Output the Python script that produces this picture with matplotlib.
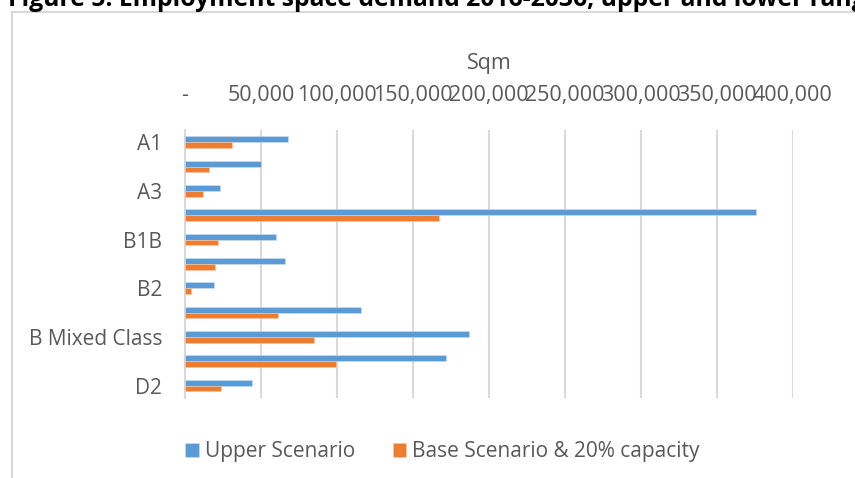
import matplotlib
matplotlib.use('Agg')
import matplotlib.pyplot as plt
from matplotlib.lines import Line2D
import numpy as np

plt.rcParams['font.family'] = ['Open Sans', 'DejaVu Sans']

# Employment space demand by use class (sqm)
categories = ['A1', 'A2', 'A3', 'B1A', 'B1B', 'B1C', 'B2', 'B8', 'B Mixed Class', 'D1', 'D2']
shown_labels = ['A1', '', 'A3', '', 'B1B', '', 'B2', '', 'B Mixed Class', '', 'D2']
upper = [68000, 50000, 23000, 376000, 60000, 66000, 19000, 116000, 187000, 172000, 44000]
base = [31000, 16000, 12000, 167000, 21500, 20000, 4000, 61000, 85000, 99500, 24000]
xticks = [0, 50000, 100000, 150000, 200000, 250000, 300000, 350000, 400000]
xticklabels = ['-', '50,000', '100,000', '150,000', '200,000', '250,000',
               '300,000', '350,000', '400,000']

W, H = 855, 478
fig = plt.figure(figsize=(W / 100, H / 100), dpi=100)
ax = fig.add_axes([185 / W, 1 - 397.7 / H, (792.7 - 185) / W, (397.7 - 130) / H])

grey_text = '#595959'
blue = '#5B9BD5'
orange = '#ED7D31'

y = np.arange(len(categories))
bh = 0.245
ax.barh(y - bh / 2, upper, height=bh, color=blue, edgecolor='#cfe0f1', linewidth=0.4,
        label='Upper Scenario', zorder=3)
ax.barh(y + bh / 2, base, height=bh, color=orange, edgecolor='#f6c9a8', linewidth=0.4,
        label='Base Scenario & 20% capacity', zorder=3)

ax.set_ylim(len(categories) - 0.5, -0.5)
ax.set_xlim(0, 400000)
ax.set_yticks(y)
ax.set_yticklabels(shown_labels, fontsize=15, color=grey_text)
ax.tick_params(axis='y', length=0, pad=16.5)

ax.xaxis.tick_top()
ax.xaxis.set_label_position('top')
ax.set_xticks(xticks)
ax.set_xticklabels(xticklabels, fontsize=15.5, color=grey_text)
ax.tick_params(axis='x', length=0, pad=17)
ax.set_xlabel('Sqm', fontsize=15.5, color=grey_text, labelpad=12)

ax.grid(axis='x', color='#d9d9d9', linewidth=1.5, zorder=0)
for s in ['top', 'right', 'bottom']:
    ax.spines[s].set_visible(False)
ax.spines['left'].set_color('#d9d9d9')
ax.spines['left'].set_linewidth(1.5)

leg = fig.legend(loc='center left', bbox_to_anchor=(166 / W, 1 - 451.5 / H), ncol=2,
                 frameon=False, fontsize=15, handlelength=0.67, handleheight=0.67,
                 handletextpad=0.29, columnspacing=1.8, labelcolor=grey_text)

# chart area border (left and top edges)
fig.add_artist(Line2D([12 / W, 12 / W], [0, 1 - 12 / H], transform=fig.transFigure,
                      color='#d9d9d9', linewidth=1.5))
fig.add_artist(Line2D([12 / W, 1], [1 - 12 / H, 1 - 12 / H], transform=fig.transFigure,
                      color='#d9d9d9', linewidth=1.5))

fig.text(8 / W, 1 - 6 / H, 'Figure 5: Employment space demand 2016-2036, upper and lower range',
         fontsize=17.8, fontweight='bold', va='baseline', ha='left', color='black')

fig.savefig('out.png', dpi=100)
